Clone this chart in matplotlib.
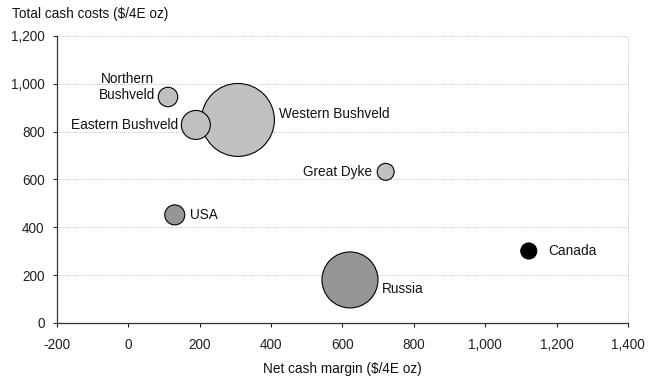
import matplotlib
matplotlib.use("Agg")
import matplotlib.pyplot as plt

plt.rcParams['font.family'] = ['Liberation Sans', 'DejaVu Sans']

regions = ["Northern\nBushveld", "Eastern Bushveld", "Western Bushveld", "Great Dyke",
           "USA", "Canada", "Russia"]
net_margin = [111, 189, 307, 721, 130, 1122, 621]
cash_costs = [945, 828, 849, 632, 452, 301, 180]
bubble_size = [95, 210, 1330, 72, 100, 64, 784]
colors = ["#c0c0c0", "#c0c0c0", "#c0c0c0", "#c0c0c0", "#969696", "#000000", "#969696"]

# label offsets (points) and alignment
offsets = [(-9, 7), (-13, 0), (29.5, 4), (-10, 0), (11, 0), (14, 0), (23, -6.5)]
aligns = ["right", "right", "left", "right", "left", "left", "left"]

x_ticks = [-200, 0, 200, 400, 600, 800, 1000, 1200, 1400]
y_ticks = [0, 200, 400, 600, 800, 1000, 1200]

FS = 9.8

fig = plt.figure(figsize=(6.53, 3.82), dpi=100)
ax = fig.add_axes([0.0873, 0.1545, 0.8744, 0.7513])

# draw largest bubbles first so smaller ones sit on top
order = sorted(range(len(regions)), key=lambda i: -bubble_size[i])
ax.scatter([net_margin[i] for i in order], [cash_costs[i] for i in order],
           s=[2.0736 * bubble_size[i] for i in order], c=[colors[i] for i in order],
           edgecolors="black", linewidths=0.8, zorder=3)

for name, x, y, off, ha in zip(regions, net_margin, cash_costs, offsets, aligns):
    ax.annotate(name, (x, y), xytext=off, textcoords="offset points",
                ha=ha, va="center", fontsize=FS, color="#111111",
                multialignment="center", linespacing=1.2, zorder=4)

ax.set_xlim(-200, 1400)
ax.set_ylim(0, 1200)
ax.set_xticks(x_ticks)
ax.set_yticks(y_ticks)
ax.set_xticklabels(["{:,}".format(v) for v in x_ticks])
ax.set_yticklabels(["{:,}".format(v) for v in y_ticks])
ax.tick_params(axis="both", labelsize=FS, direction="out", length=3, width=0.8,
               colors="#222222")
ax.tick_params(axis="x", pad=8)
ax.tick_params(axis="y", pad=6)

ax.grid(axis="y", linestyle=(0, (1, 1.5)), color="#b0b0b0", linewidth=0.6, zorder=0)
ax.spines["top"].set_visible(False)
ax.spines["right"].set_linestyle((0, (1, 1.5)))
ax.spines["right"].set_color("#d0d0d0")
ax.spines["right"].set_linewidth(0.6)
for sp in ["left", "bottom"]:
    ax.spines[sp].set_color("#333333")
    ax.spines[sp].set_linewidth(0.9)

ax.set_xlabel("Net cash margin ($/4E oz)", fontsize=FS, labelpad=7, color="#111111")
fig.text(12 / 653, 1 - 14 / 382, "Total cash costs ($/4E oz)", fontsize=FS,
         ha="left", va="center", color="#111111")

fig.savefig("out.png", dpi=100)
